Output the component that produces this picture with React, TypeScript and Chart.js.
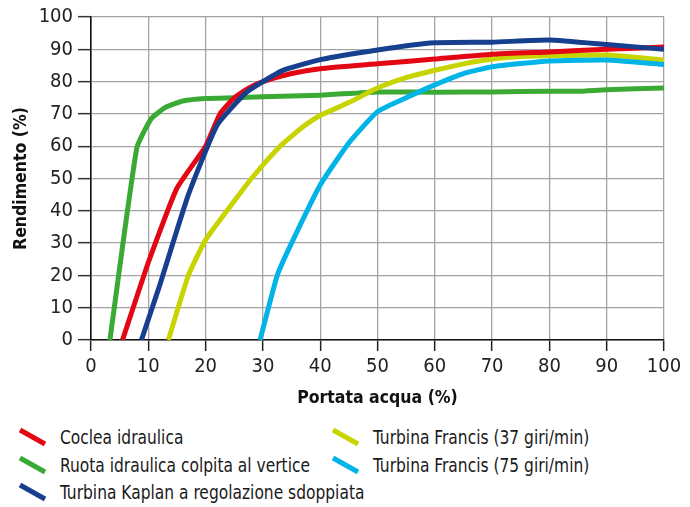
import React, { useEffect, useRef } from "react";
import { Chart, registerables } from "chart.js";

Chart.register(...registerables);

// ---- data ----
const X_TICKS = [0, 10, 20, 30, 40, 50, 60, 70, 80, 90, 100];
const Y_TICKS = [0, 10, 20, 30, 40, 50, 60, 70, 80, 90, 100];

const COCLEA_X = [5.5, 10, 15, 20, 22.5, 25, 27.5, 30, 35, 40, 50, 60, 70, 80, 90, 100];
const COCLEA_Y = [0, 24, 47, 60, 70, 75, 78, 80, 82.5, 84, 85.5, 87, 88.5, 89.2, 90, 90.7];

const RUOTA_X = [3.3, 8, 10.5, 13, 16, 20, 25, 30, 40, 50, 60, 70, 80, 85, 90, 100];
const RUOTA_Y = [0, 59.5, 68.5, 72, 74, 74.8, 75, 75.3, 75.8, 76.8, 76.7, 76.8, 77, 77, 77.5, 78];

const KAPLAN_X = [8.8, 12, 17, 22, 27, 30, 33.5, 40, 50, 60, 70, 80, 90, 100];
const KAPLAN_Y = [0, 17, 45, 66.5, 76.5, 80, 83.5, 86.8, 89.8, 92, 92.2, 92.9, 91.5, 90];

const FRANCIS37_X = [13.5, 17, 20, 25, 28, 33, 37, 40, 45, 50, 55, 60, 65, 70, 75, 80, 90, 100];
const FRANCIS37_Y = [0, 20, 31, 43, 50, 60, 66, 69.5, 73.5, 78, 81.2, 83.5, 85.5, 87, 87.8, 88, 88.2, 86.7];

const FRANCIS75_X = [29.5, 32.5, 35, 40, 45, 50, 55, 60, 65, 70, 80, 90, 100];
const FRANCIS75_Y = [0, 20, 30, 48, 61, 70.7, 75, 79, 82.5, 84.6, 86.4, 86.7, 85.3];

const SERIES_LABELS = [
  "Coclea idraulica",
  "Ruota idraulica colpita al vertice",
  "Turbina Kaplan a regolazione sdoppiata",
  "Turbina Francis (37 giri/min)",
  "Turbina Francis (75 giri/min)",
];
const SERIES_COLORS = ["#e30613", "#3aaa35", "#163f8e", "#c8d400", "#00b4e8"];
const SERIES_X = [COCLEA_X, RUOTA_X, KAPLAN_X, FRANCIS37_X, FRANCIS75_X];
const SERIES_Y = [COCLEA_Y, RUOTA_Y, KAPLAN_Y, FRANCIS37_Y, FRANCIS75_Y];
// draw order: lower = on top
const SERIES_ORDER = [2, 4, 0, 3, 1];

const X_TITLE = "Portata acqua (%)";
const Y_TITLE = "Rendimento (%)";

const FONT = "'DejaVu Sans Condensed', 'Liberation Sans', sans-serif";

export default function App() {
  const canvasRef = useRef<HTMLCanvasElement | null>(null);

  useEffect(() => {
    const canvas = canvasRef.current;
    if (!canvas) return;
    const datasets = SERIES_LABELS.map((label, i) => ({
      label,
      data: SERIES_X[i].map((x, j) => ({ x, y: SERIES_Y[i][j] })),
      borderColor: SERIES_COLORS[i],
      backgroundColor: SERIES_COLORS[i],
      borderWidth: 5,
      pointRadius: 0,
      tension: 0.15,
      fill: false,
      borderJoinStyle: "round" as const,
      order: SERIES_ORDER[i],
    }));

    const chart = new Chart(canvas, {
      type: "line",
      data: { datasets },
      options: {
        animation: false,
        responsive: false,
        layout: { padding: { top: 17, right: 26, left: 0, bottom: 0 } },
        plugins: { legend: { display: false }, tooltip: { enabled: false } },
        scales: {
          x: {
            type: "linear",
            min: 0,
            max: 100,
            afterBuildTicks: (s: any) => {
              s.ticks = X_TICKS.map((v) => ({ value: v }));
            },
            afterFit: (s: any) => {
              s.height = 70;
            },
            grid: {
              color: "#a3a3a3",
              lineWidth: 1.3,
              tickLength: 11,
              tickColor: "#222",
              tickWidth: 1.5,
            },
            border: { color: "#111", width: 1.6 },
            ticks: {
              color: "#222",
              padding: 4,
              maxRotation: 0,
              font: { family: FONT, size: 20 },
            },
            title: {
              display: true,
              text: X_TITLE,
              color: "#111",
              padding: { top: 0, bottom: 1 },
              font: { family: FONT, size: 17.5, weight: "bold" },
            },
          },
          y: {
            type: "linear",
            min: 0,
            max: 100,
            afterBuildTicks: (s: any) => {
              s.ticks = Y_TICKS.map((v) => ({ value: v }));
            },
            afterFit: (s: any) => {
              s.width = 91;
            },
            grid: {
              color: "#a3a3a3",
              lineWidth: 1.3,
              tickLength: 13,
              tickColor: "#333",
              tickWidth: 1.5,
            },
            border: { color: "#111", width: 1.6 },
            ticks: {
              color: "#222",
              padding: 5,
              font: { family: FONT, size: 20 },
            },
            title: {
              display: true,
              text: Y_TITLE,
              color: "#111",
              padding: { top: 11, bottom: 0 },
              font: { family: FONT, size: 17.5, weight: "bold" },
            },
          },
        },
      },
    });
    return () => chart.destroy();
  }, []);

  const legendCols = [
    { marker: 17, text: 60, items: [0, 1, 2] },
    { marker: 330, text: 373, items: [3, 4] },
  ];
  const rowTop = 424;
  const rowH = 27.5;

  return (
    <div
      style={{
        position: "absolute",
        left: 0,
        top: 0,
        width: 690,
        height: 507,
        background: "#fff",
        overflow: "hidden",
        fontFamily: FONT,
      }}
    >
      <canvas ref={canvasRef} width={690} height={410} style={{ display: "block" }} />
      {legendCols.map((col, ci) =>
        col.items.map((si, ri) => (
          <React.Fragment key={`${ci}-${ri}`}>
            <svg
              width={32}
              height={22}
              style={{ position: "absolute", left: col.marker, top: rowTop + ri * rowH + 2 }}
            >
              <line x1={3} y1={4} x2={28} y2={18} stroke={SERIES_COLORS[si]} strokeWidth={5} />
            </svg>
            <div
              style={{
                position: "absolute",
                left: col.text,
                top: rowTop + ri * rowH,
                height: 27,
                lineHeight: "27px",
                fontSize: 20,
                color: "#1a1a1a",
                whiteSpace: "nowrap",
                transform: "scaleX(0.86)",
                transformOrigin: "0 50%",
              }}
            >
              {SERIES_LABELS[si]}
            </div>
          </React.Fragment>
        ))
      )}
    </div>
  );
}
